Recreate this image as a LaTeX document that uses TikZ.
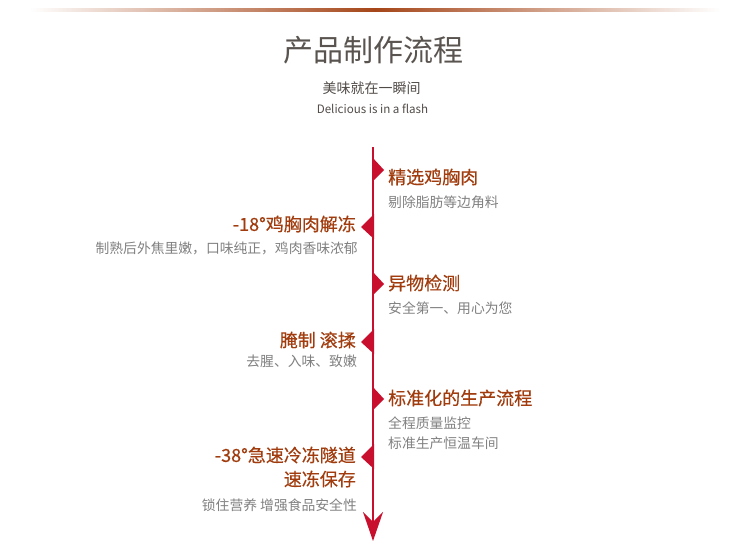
\documentclass[tikz,border=0pt]{standalone}
\usepackage{fontspec}
\setmainfont{Noto Sans CJK SC}
\newfontfamily\stepfont{Noto Sans CJK SC}[RawFeature={embolden=0.4}]
\usetikzlibrary{arrows.meta}
\definecolor{linered}{RGB}{200,16,46}
\definecolor{headbrown}{RGB}{165,70,25}
\definecolor{stepcol}{RGB}{160,60,14}
\definecolor{subgray}{RGB}{128,128,128}
\definecolor{titlegray}{RGB}{90,84,80}
\tikzset{
  steptitle/.style={inner sep=0pt, text=stepcol, font=\stepfont\fontsize{18}{22}\selectfont},
  stepsub/.style={inner sep=0pt, text=subgray, font=\fontsize{13.8}{20}\selectfont, align=left},
  stepsubr/.style={inner sep=0pt, text=subgray, font=\fontsize{13.8}{20}\selectfont, align=right},
  rmark/.style={fill=linered, draw=none},
}
\begin{document}
\begin{tikzpicture}[x=1pt,y=-1pt]
\useasboundingbox (0,0) rectangle (750,554);
% top gradient rule
\shade[left color=white, right color=headbrown] (30,8.7) rectangle (375,11.3);
\shade[left color=headbrown, right color=white] (375,8.7) rectangle (720,11.3);
% header
\node[inner sep=0pt, text=titlegray, font=\fontsize{30}{33}\selectfont] (title) at (373,50) {产品制作流程};
\node[inner sep=0pt, text=titlegray!90!black, font=\fontsize{14}{16}\selectfont] (subtitle) at (371.5,88) {美味就在一瞬间};
\node[inner sep=0pt, text=titlegray!90!black, font=\fontsize{11.6}{14}\selectfont] (entitle) at (372.5,109) {Delicious is in a flash};
% timeline
\coordinate (top) at (373,147);
\coordinate (bottom) at (373,541);
\draw[linered, line width=2pt, -{Stealth[length=29pt, width=20pt, inset=10pt]}] (top) -- (bottom);
% right markers
\fill[rmark] (372,157) -- (384,170) -- (372,182) -- cycle;
\fill[rmark] (372,271) -- (384,284) -- (372,296) -- cycle;
\fill[rmark] (372,386) -- (384,399) -- (372,411) -- cycle;
% left markers
\fill[rmark] (374,214) -- (361,227) -- (374,239) -- cycle;
\fill[rmark] (374,329) -- (361,342) -- (374,354) -- cycle;
\fill[rmark] (374,444) -- (361,457) -- (374,469) -- cycle;
% right steps
\node[steptitle, anchor=west] (s1) at (388,177) {精选鸡胸肉};
\node[stepsub, anchor=west] (s1d) at (388,202) {剔除脂肪等边角料};
\node[steptitle, anchor=west] (s3) at (388,283) {异物检测};
\node[stepsub, anchor=west] (s3d) at (388,308) {安全第一、用心为您};
\node[steptitle, anchor=west] (s5) at (388,398) {标准化的生产流程};
\node[stepsub, anchor=west] (s5d) at (388,423) {全程质量监控};
\node[stepsub, anchor=west] (s5e) at (388,443) {标准生产恒温车间};
% left steps
\node[steptitle, anchor=east] (s2) at (356,224) {-18°鸡胸肉解冻};
\node[stepsubr, anchor=east] (s2d) at (358,248) {制熟后外焦里嫩，口味纯正，鸡肉香味浓郁};
\node[steptitle, anchor=east] (s4) at (356,340) {腌制 滚揉};
\node[stepsubr, anchor=east] (s4d) at (357,361) {去腥、入味、致嫩};
\node[steptitle, anchor=east] (s6) at (356,455) {-38°急速冷冻隧道};
\node[steptitle, anchor=east] (s6b) at (356,479) {速冻保存};
\node[stepsubr, anchor=east] (s6d) at (357,505) {锁住营养 增强食品安全性};
\end{tikzpicture}
\end{document}
